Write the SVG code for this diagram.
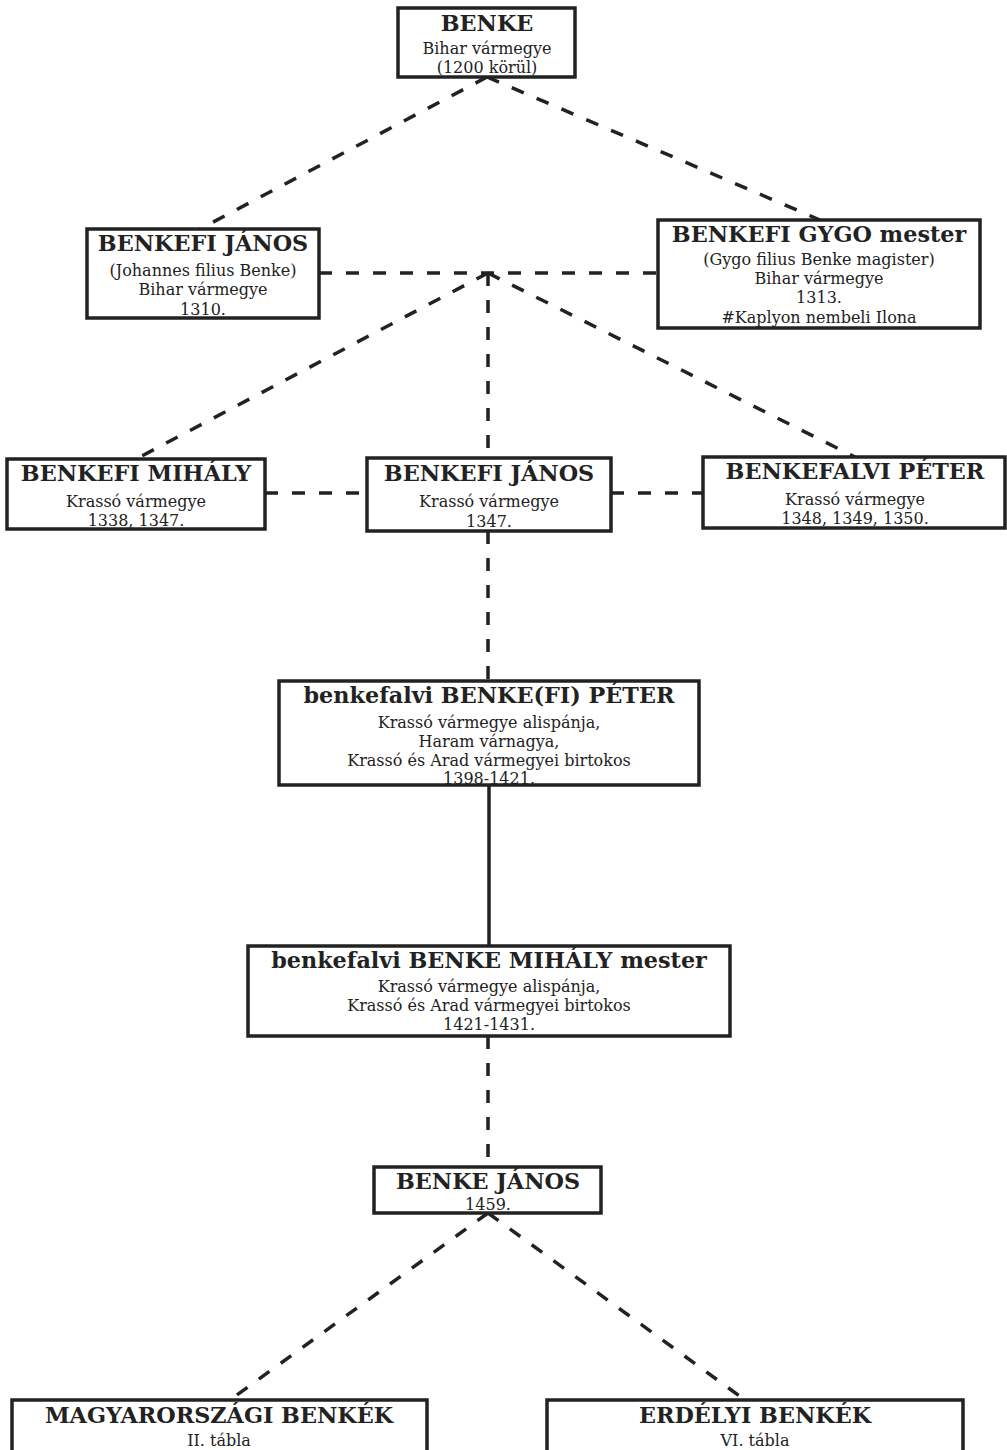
<svg xmlns="http://www.w3.org/2000/svg" width="1007" height="1450" viewBox="0 0 1007 1450">
<style>
.box{fill:#fff;stroke:#222;stroke-width:3.5}
.t{font-family:"DejaVu Serif","Liberation Serif",serif;font-weight:bold;font-size:22.3px;fill:#222;text-anchor:middle}
.s{font-family:"DejaVu Serif","Liberation Serif",serif;font-size:16px;fill:#222;text-anchor:middle}
.d{stroke:#222;stroke-width:3.5;fill:none;stroke-dasharray:13 14}
.l{stroke:#222;stroke-width:3.5;fill:none}
</style>
<rect width="1007" height="1450" fill="#fff"/>
<g id="connectors">
<line class="d" x1="487" y1="77" x2="200" y2="229"/>
<line class="d" x1="487" y1="77" x2="820" y2="220"/>
<line class="d" x1="319" y1="273" x2="658" y2="273"/>
<line class="d" x1="488" y1="273" x2="136" y2="459"/>
<line class="d" x1="488" y1="273" x2="488" y2="458"/>
<line class="d" x1="488" y1="273" x2="855" y2="457"/>
<line class="d" x1="265" y1="493" x2="367" y2="493"/>
<line class="d" x1="611" y1="493" x2="703" y2="493"/>
<line class="d" x1="488" y1="531" x2="488" y2="681"/>
<line class="l" x1="489" y1="785" x2="489" y2="946"/>
<line class="d" x1="488" y1="1036" x2="488" y2="1167"/>
<line class="d" x1="488" y1="1213" x2="230" y2="1400"/>
<line class="d" x1="488" y1="1213" x2="745" y2="1400"/>
</g>
<g id="benke">
<rect class="box" x="398" y="8" width="177" height="69"/>
<text class="t" x="487" y="31">BENKE</text>
<text class="s" x="487" y="54">Bihar vármegye</text>
<text class="s" x="487" y="73">(1200 körül)</text>
</g>
<g id="benkefi-janos-1310">
<rect class="box" x="87" y="229" width="232" height="89"/>
<text class="t" x="203" y="251">BENKEFI JÁNOS</text>
<text class="s" x="203" y="276">(Johannes filius Benke)</text>
<text class="s" x="203" y="295">Bihar vármegye</text>
<text class="s" x="203" y="315">1310.</text>
</g>
<g id="benkefi-gygo">
<rect class="box" x="658" y="220" width="322" height="108"/>
<text class="t" x="819" y="242">BENKEFI GYGO mester</text>
<text class="s" x="819" y="265">(Gygo filius Benke magister)</text>
<text class="s" x="819" y="284">Bihar vármegye</text>
<text class="s" x="819" y="303">1313.</text>
<text class="s" x="819" y="323">#Kaplyon nembeli Ilona</text>
</g>
<g id="benkefi-mihaly">
<rect class="box" x="7" y="459" width="258" height="70"/>
<text class="t" x="136" y="481">BENKEFI MIHÁLY</text>
<text class="s" x="136" y="507">Krassó vármegye</text>
<text class="s" x="136" y="526">1338, 1347.</text>
</g>
<g id="benkefi-janos-1347">
<rect class="box" x="367" y="458" width="244" height="73"/>
<text class="t" x="489" y="481">BENKEFI JÁNOS</text>
<text class="s" x="489" y="507">Krassó vármegye</text>
<text class="s" x="489" y="527">1347.</text>
</g>
<g id="benkefalvi-peter">
<rect class="box" x="703" y="457" width="302" height="71"/>
<text class="t" x="855" y="479">BENKEFALVI PÉTER</text>
<text class="s" x="855" y="505">Krassó vármegye</text>
<text class="s" x="855" y="524">1348, 1349, 1350.</text>
</g>
<g id="benke-fi-peter">
<rect class="box" x="279" y="681" width="420" height="104"/>
<text class="t" x="489" y="703">benkefalvi BENKE(FI) PÉTER</text>
<text class="s" x="489" y="728">Krassó vármegye alispánja,</text>
<text class="s" x="489" y="747">Haram várnagya,</text>
<text class="s" x="489" y="766">Krassó és Arad vármegyei birtokos</text>
<text class="s" x="489" y="784">1398-1421.</text>
</g>
<g id="benke-mihaly-mester">
<rect class="box" x="248" y="946" width="482" height="90"/>
<text class="t" x="489" y="968">benkefalvi BENKE MIHÁLY mester</text>
<text class="s" x="489" y="992">Krassó vármegye alispánja,</text>
<text class="s" x="489" y="1011">Krassó és Arad vármegyei birtokos</text>
<text class="s" x="489" y="1030">1421-1431.</text>
</g>
<g id="benke-janos">
<rect class="box" x="374" y="1167" width="227" height="46"/>
<text class="t" x="488" y="1189">BENKE JÁNOS</text>
<text class="s" x="488" y="1210">1459.</text>
</g>
<g id="magyarorszagi">
<rect class="box" x="12" y="1400" width="415" height="56"/>
<text class="t" x="219" y="1423">MAGYARORSZÁGI BENKÉK</text>
<text class="s" x="219" y="1446">II. tábla</text>
</g>
<g id="erdelyi">
<rect class="box" x="547" y="1400" width="416" height="56"/>
<text class="t" x="755" y="1423">ERDÉLYI BENKÉK</text>
<text class="s" x="755" y="1446">VI. tábla</text>
</g>
</svg>
